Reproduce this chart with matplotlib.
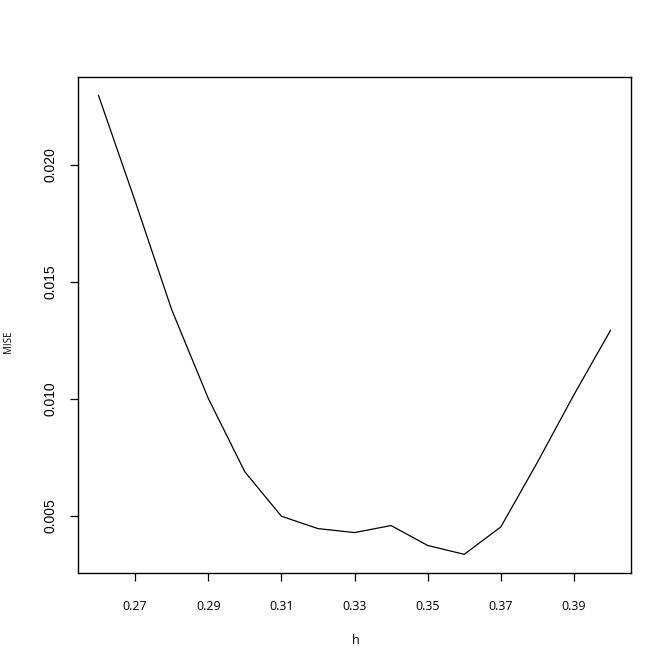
import matplotlib
matplotlib.use('Agg')
import matplotlib.pyplot as plt

# bandwidth grid and MISE values
h_vals = [0.26, 0.27, 0.28, 0.29, 0.30, 0.31, 0.32, 0.33,
          0.34, 0.35, 0.36, 0.37, 0.38, 0.39, 0.40]
mise_vals = [0.02297, 0.01846, 0.01382, 0.01003, 0.00689, 0.00499, 0.00446, 0.00429,
             0.00459, 0.00374, 0.00336, 0.00453, 0.00729, 0.01018, 0.01293]
x_ticks = [0.27, 0.29, 0.31, 0.33, 0.35, 0.37, 0.39]
y_ticks = [0.005, 0.010, 0.015, 0.020]

fig = plt.figure(figsize=(6.72, 6.71), dpi=100)
ax = fig.add_axes([78/672, (671-572.7)/671, (631-78)/672, (572.7-77)/671])

ax.plot(h_vals, mise_vals, color='black', linewidth=0.9)

# R style 4% padding
xr = max(h_vals) - min(h_vals)
yr = max(mise_vals) - min(mise_vals)
ax.set_xlim(min(h_vals) - 0.04*xr, max(h_vals) + 0.04*xr)
ax.set_ylim(min(mise_vals) - 0.04*yr, max(mise_vals) + 0.04*yr)

ax.set_xticks(x_ticks)
ax.set_xticklabels(['%.2f' % t for t in x_ticks], fontsize=9, family='Open Sans')
ax.set_yticks(y_ticks)
ax.set_yticklabels(['%.3f' % t for t in y_ticks], fontsize=10, family='Liberation Sans',
                   rotation=90, va='center')
ax.tick_params(axis='both', length=6, width=0.9, color='black')
ax.tick_params(axis='x', pad=14)
ax.tick_params(axis='y', pad=9)
for s in ax.spines.values():
    s.set_linewidth(1.0)

fig.text(356/672, 1 - 641/671, 'h', fontsize=9, family='Open Sans', ha='center', va='center')
fig.text(9/672, 1 - 342/671, 'MISE', fontsize=7, family='Open Sans', rotation=90,
         ha='center', va='center')

fig.savefig('out.png', dpi=100)
